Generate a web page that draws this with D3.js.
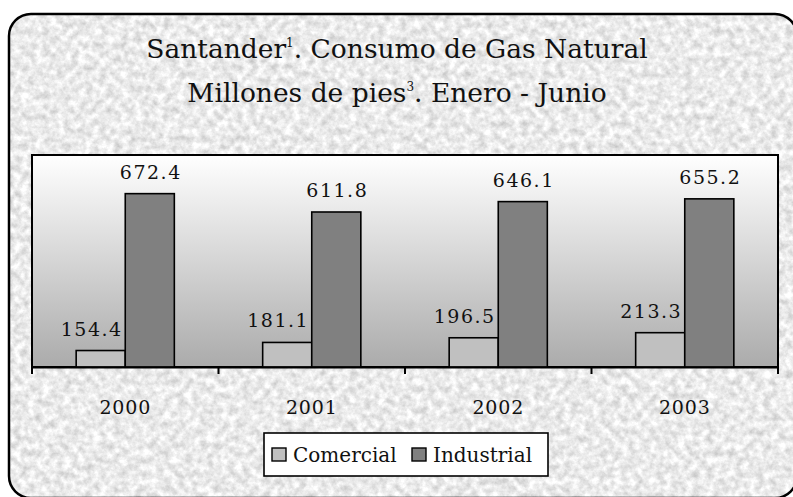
<!DOCTYPE html>
<html>
<head>
<meta charset="utf-8">
<script src="https://cdn.jsdelivr.net/npm/d3@7"></script>
<style>
  body { margin: 0; background: #fff; }
  svg text { font-family: 'DejaVu Serif', serif; fill: #111; }
</style>
</head>
<body>
<svg id="chart" width="793" height="497"></svg>
<script>
// data
const years = ['2000', '2001', '2002', '2003']
const series = ['Comercial', 'Industrial']
const comercial = [154.4, 181.1, 196.5, 213.3]
const industrial = [672.4, 611.8, 646.1, 655.2]
const colors = ['#c0c0c0', '#808080']
const labelShift = [-10, 0]  // comercial labels sit a bit left of their bars

const svg = d3.select('#chart')
const defs = svg.append('defs')

// light grey marbled paper for the outer frame
const tex = defs.append('filter').attr('id', 'paper')
  .attr('x', 0).attr('y', 0).attr('width', '100%').attr('height', '100%')
  .attr('color-interpolation-filters', 'sRGB')
tex.append('feTurbulence')
  .attr('type', 'fractalNoise').attr('baseFrequency', 0.14)
  .attr('numOctaves', 4).attr('seed', 7).attr('result', 'noise')
tex.append('feColorMatrix').attr('in', 'noise').attr('type', 'matrix')
  .attr('values', '0.34 0 0 0 0.75  0.34 0 0 0 0.75  0.34 0 0 0 0.75  0 0 0 0 1')
  .attr('result', 'grey')
tex.append('feComposite').attr('in', 'grey').attr('in2', 'SourceGraphic')
  .attr('operator', 'in')

const grad = defs.append('linearGradient').attr('id', 'plotbg')
  .attr('x1', 0).attr('y1', 0).attr('x2', 0).attr('y2', 1)
grad.append('stop').attr('offset', 0).attr('stop-color', '#ffffff')
grad.append('stop').attr('offset', 1).attr('stop-color', '#ababab')

// outer frame
svg.append('rect')
  .attr('x', 9).attr('y', 14).attr('width', 788).attr('height', 484)
  .attr('rx', 22).attr('fill', '#e8e8e8')
  .attr('filter', 'url(#paper)')
svg.append('rect')
  .attr('x', 9).attr('y', 14).attr('width', 788).attr('height', 484)
  .attr('rx', 22).attr('fill', 'none')
  .attr('stroke', '#000').attr('stroke-width', 2.5)

// title
const title = svg.append('text').attr('text-anchor', 'middle')
  .style('font-size', '26.5px')
const t1 = title.append('tspan').attr('x', 397).attr('y', 58)
t1.append('tspan').text('Santander')
t1.append('tspan').attr('dy', -11).style('font-size', '12px').text('1')
t1.append('tspan').attr('dy', 11).text('. Consumo de Gas Natural')
const t2 = title.append('tspan').attr('x', 397).attr('y', 102)
t2.append('tspan').text('Millones de pies')
t2.append('tspan').attr('dy', -11).style('font-size', '12px').text('3')
t2.append('tspan').attr('dy', 11).text('. Enero - Junio')

// plot area
const plotLeft = 32, plotRight = 778, plotTop = 155, plotBottom = 367

const x0 = d3.scaleBand().domain(years).range([plotLeft, plotRight])
const x1 = d3.scaleBand().domain(series).range([0, x0.bandwidth()])
  .paddingInner(0).paddingOuter(0.9)
const y = d3.scaleLinear().domain([100, 800]).range([plotBottom, plotTop])

svg.append('rect')
  .attr('x', plotLeft).attr('y', plotTop)
  .attr('width', plotRight - plotLeft).attr('height', plotBottom - plotTop)
  .attr('fill', 'url(#plotbg)')
  .attr('stroke', '#000').attr('stroke-width', 2)

const rows = years.map((yr, i) => ({ year: yr, values: [comercial[i], industrial[i]] }))

const groups = svg.selectAll('.group')
  .data(rows)
  .enter().append('g')
  .attr('class', 'group')
  .attr('transform', d => 'translate(' + x0(d.year) + ',0)')

groups.selectAll('rect')
  .data(d => d.values.map((v, j) => ({ key: series[j], value: v, j: j })))
  .enter().append('rect')
  .attr('x', d => x1(d.key))
  .attr('y', d => y(d.value))
  .attr('width', x1.bandwidth())
  .attr('height', d => plotBottom - y(d.value))
  .attr('fill', d => colors[d.j])
  .attr('stroke', '#000').attr('stroke-width', 1.6)

groups.selectAll('.val')
  .data(d => d.values.map((v, j) => ({ key: series[j], value: v, j: j })))
  .enter().append('text')
  .attr('class', 'val')
  .attr('x', d => x1(d.key) + x1.bandwidth() / 2 + labelShift[d.j] + 1)
  .attr('y', d => y(d.value) - 15)
  .attr('text-anchor', 'middle')
  .style('font-size', '19px')
  .style('letter-spacing', '1.5px')
  .text(d => d.value.toFixed(1))

// category axis
const xAxis = d3.axisBottom(x0).tickSize(0).tickPadding(0)
const axisG = svg.append('g')
  .attr('transform', 'translate(0,' + plotBottom + ')')
  .call(xAxis)
axisG.select('.domain').attr('stroke', '#000').attr('stroke-width', 2)
axisG.selectAll('.tick text')
  .attr('y', 47).attr('dy', 0)
  .style('font-size', '19px')
  .style('letter-spacing', '0.8px')
  .style('font-family', "'DejaVu Serif', serif")
  .attr('fill', '#111')
// boundary ticks between categories
const edges = years.map(d => x0(d)).concat([plotRight])
axisG.selectAll('.edge')
  .data(edges)
  .enter().append('line')
  .attr('x1', d => d).attr('x2', d => d)
  .attr('y1', 0).attr('y2', 7)
  .attr('stroke', '#000').attr('stroke-width', 2)

// legend
const legend = svg.append('g').attr('transform', 'translate(264,433)')
legend.append('rect')
  .attr('width', 284).attr('height', 43)
  .attr('fill', '#fff').attr('stroke', '#000').attr('stroke-width', 1.6)
const lx = [8, 148]
const item = legend.selectAll('.item')
  .data(series)
  .enter().append('g')
  .attr('transform', (d, i) => 'translate(' + lx[i] + ',0)')
item.append('rect')
  .attr('x', 0).attr('y', 15).attr('width', 14).attr('height', 13)
  .attr('fill', (d, i) => colors[i]).attr('stroke', '#000').attr('stroke-width', 1.4)
item.append('text')
  .attr('x', 21).attr('y', 29)
  .style('font-size', '20px')
  .text(d => d)
</script>
</body>
</html>
